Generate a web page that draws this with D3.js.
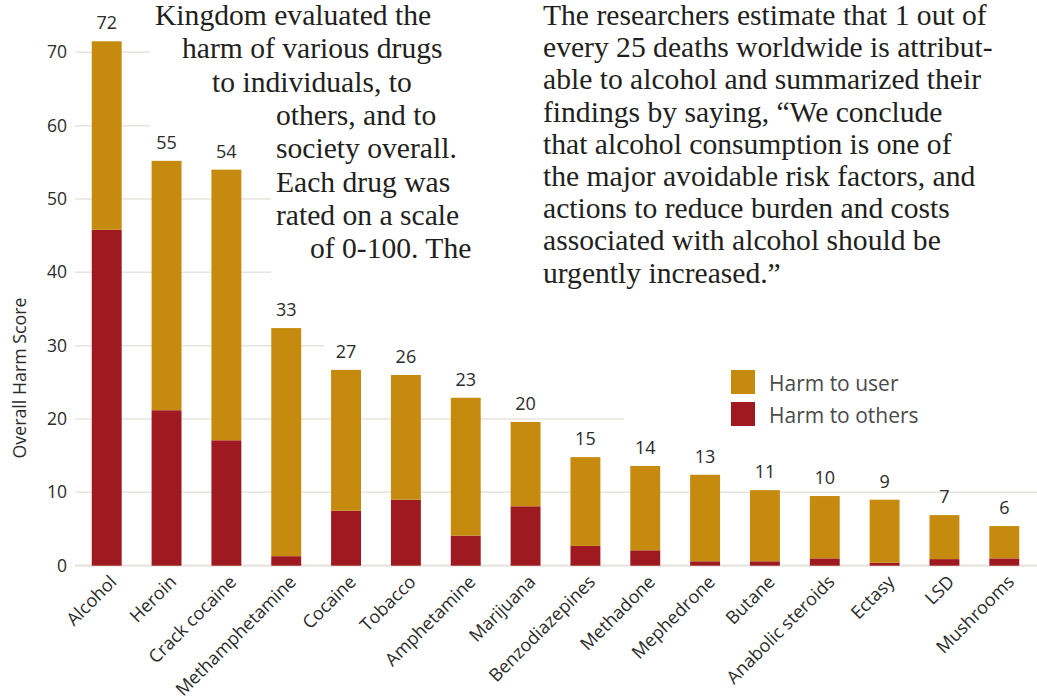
<!DOCTYPE html>
<html><head><meta charset="utf-8">
<script src="https://cdn.jsdelivr.net/npm/d3@7"></script>
<style>
html,body{margin:0;padding:0;background:#fff;}
svg{display:block;}
</style></head>
<body>
<svg id="chart" width="1037" height="700"></svg>
<script>
const drugs = ["Alcohol","Heroin","Crack cocaine","Methamphetamine","Cocaine","Tobacco","Amphetamine","Marijuana","Benzodiazepines","Methadone","Mephedrone","Butane","Anabolic steroids","Ectasy","LSD","Mushrooms"];
const harmToOthers = [45.8, 21.2, 17.1, 1.3, 7.5, 9.0, 4.1, 8.1, 2.7, 2.1, 0.6, 0.6, 1.0, 0.4, 0.9, 1.0];
const harmToUser   = [25.7, 34.0, 36.9, 31.1, 19.2, 17.0, 18.8, 11.5, 12.1, 11.5, 11.8, 9.7, 8.5, 8.6, 6.0, 4.4];
const totalLabels  = [72, 55, 54, 33, 27, 26, 23, 20, 15, 14, 13, 11, 10, 9, 7, 6];
const yTicks = [0, 10, 20, 30, 40, 50, 60, 70];
const seriesKeys = ["others", "user"];
const seriesNames = {user: "Harm to user", others: "Harm to others"};
const colors = {user: "#C68A0E", others: "#9E1A20"};

const leftText = [
  "Kingdom evaluated the",
  "harm of various drugs",
  "to individuals, to",
  "others, and to",
  "society overall.",
  "Each drug was",
  "rated on a scale",
  "of 0-100. The"
];
const leftIndent = [155, 182, 212, 276, 276, 276, 276, 310];
const rightText = [
  "The researchers estimate that 1 out of",
  "every 25 deaths worldwide is attribut-",
  "able to alcohol and summarized their",
  "findings by saying, \u201CWe conclude",
  "that alcohol consumption is one of",
  "the major avoidable risk factors, and",
  "actions to reduce burden and costs",
  "associated with alcohol should be",
  "urgently increased.\u201D"
];

const W = 1037, H = 700;
const svg = d3.select("#chart");
const sans = "'Open Sans', 'Noto Sans', sans-serif";
const serif = "'Liberation Serif', 'DejaVu Serif', serif";

const data = drugs.map((d, i) => ({drug: d, others: harmToOthers[i], user: harmToUser[i], label: totalLabels[i]}));
const stacked = d3.stack().keys(seriesKeys)(data);

const x = d3.scaleBand().domain(drugs).range([75, 1036]).paddingInner(0.5).paddingOuter(0.28);
const y = d3.scaleLinear().domain([0, 70]).range([565.7, 52.3]);

// gridlines
const grid = svg.append("g");
grid.selectAll("line").data(yTicks).join("line")
  .attr("x1", 75).attr("x2", W)
  .attr("y1", d => y(d)).attr("y2", d => y(d))
  .attr("stroke", "#e8e4df")
  .attr("stroke-width", d => d === 0 ? 2.2 : 1.5);

// white background of text blocks (hides gridlines)
svg.append("path")
  .attr("d", "M150,0 L1037,0 L1037,450 L624,450 L624,385 L324,385 L324,310 L271,310 L271,160 L150,160 Z")
  .attr("fill", "#fff");

// y tick labels
svg.append("g").selectAll("text").data(yTicks).join("text")
  .attr("x", 67).attr("y", d => y(d)).attr("dy", "0.35em")
  .attr("text-anchor", "end")
  .attr("font-family", sans).attr("font-size", 17.5).attr("fill", "#2b2b2b")
  .text(d => d);

// y axis title
svg.append("text")
  .attr("transform", "translate(26,378) rotate(-90)")
  .attr("text-anchor", "middle")
  .attr("font-family", sans).attr("font-size", 17.8).attr("fill", "#2b2b2b")
  .text("Overall Harm Score");

// bars
svg.append("g").selectAll("g").data(stacked).join("g")
  .attr("fill", s => colors[s.key])
  .selectAll("rect").data(s => s).join("rect")
  .attr("x", d => x(d.data.drug))
  .attr("width", x.bandwidth())
  .attr("y", d => y(d[1]))
  .attr("height", d => y(d[0]) - y(d[1]));

// total labels
svg.append("g").selectAll("text").data(data).join("text")
  .attr("x", d => x(d.drug) + x.bandwidth() / 2)
  .attr("y", d => y(d.others + d.user) - 12)
  .attr("text-anchor", "middle")
  .attr("font-family", sans).attr("font-size", 18).attr("fill", "#2b2b2b")
  .text(d => d.label);

// x labels
svg.append("g").selectAll("text").data(drugs).join("text")
  .attr("transform", d => `translate(${x(d) + x.bandwidth() / 2 + 11},${583}) rotate(-45)`)
  .attr("text-anchor", "end")
  .attr("font-family", sans).attr("font-size", 18).attr("fill", "#2b2b2b")
  .text(d => d);

// legend
const legendKeys = ["user", "others"];
const lg = svg.append("g");
lg.selectAll("rect").data(legendKeys).join("rect")
  .attr("x", 731).attr("y", (d, i) => 370 + i * 32)
  .attr("width", 24).attr("height", 24)
  .attr("fill", d => colors[d]);
lg.selectAll("text").data(legendKeys).join("text")
  .attr("x", 769).attr("y", (d, i) => 391 + i * 32)
  .attr("font-family", sans).attr("font-size", 21).attr("fill", "#4a4a4a")
  .text(d => seriesNames[d]);

// paragraphs
svg.append("g").selectAll("text").data(leftText).join("text")
  .attr("x", (d, i) => leftIndent[i])
  .attr("y", (d, i) => 25 + i * 33.3)
  .attr("font-family", serif).attr("font-size", 29.6).attr("fill", "#231f20")
  .text(d => d);
svg.append("g").selectAll("text").data(rightText).join("text")
  .attr("x", 543)
  .attr("y", (d, i) => 25 + i * 32.2)
  .attr("font-family", serif).attr("font-size", 29.6).attr("fill", "#231f20")
  .text(d => d);
</script>
</body></html>
